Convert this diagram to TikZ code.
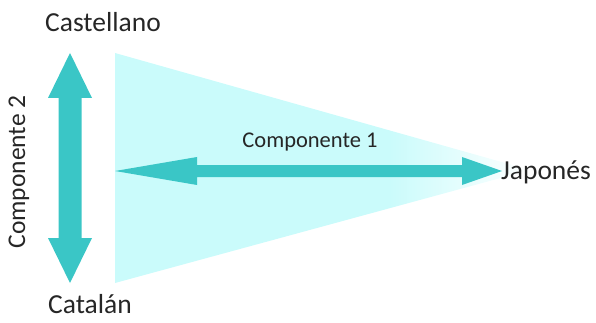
\documentclass[tikz,border=0pt]{standalone}
\usepackage{fontspec}
\setmainfont{Carlito}
\definecolor{teal1}{RGB}{58,198,198}
\definecolor{tri}{RGB}{202,251,251}
\pgfdeclarehorizontalshading{trishade}{100bp}{color(0bp)=(tri); color(25bp)=(tri); color(58bp)=(tri); color(75bp)=(white); color(100bp)=(white)}
\begin{document}
\begin{tikzpicture}[x=1pt,y=-1pt,
  big/.style={font=\fontsize{27.5}{30}\selectfont, text=black!85, inner sep=0pt, anchor=base},
  small/.style={font=\fontsize{22.5}{26}\selectfont, text=black!85, inner sep=0pt, anchor=base},
  arrowfill/.style={fill=teal1, draw=none}]
\useasboundingbox (0,0) rectangle (596,323);
% triangle
\coordinate (t1) at (115,53);
\coordinate (t2) at (115,283);
\coordinate (apex) at (530,170);
\shade[shading=trishade] (t1) -- (apex) -- (t2) -- cycle;
% vertical double arrow
\fill[arrowfill] (70,53) -- (92,98) -- (81.5,98) -- (81.5,238) -- (92,238) -- (70,283)
  -- (48,238) -- (58.5,238) -- (58.5,98) -- (48,98) -- cycle;
% horizontal double arrow
\fill[arrowfill] (115,171) -- (197,157) -- (197,165) -- (462,165) -- (462,157) -- (502,171)
  -- (462,185) -- (462,177) -- (197,177) -- (197,185) -- cycle;
% labels
\node[big] (cast) at (103,32) {Castellano};
\node[big] (cat) at (90,313) {Catalán};
\node[big] (jap) at (546,179) {Japonés};
\node[small] (c1) at (310,147) {Componente 1};
\node[small, rotate=90, font=\fontsize{25.5}{28}\selectfont] (c2) at (25,172) {Componente 2};
\end{tikzpicture}
\end{document}
